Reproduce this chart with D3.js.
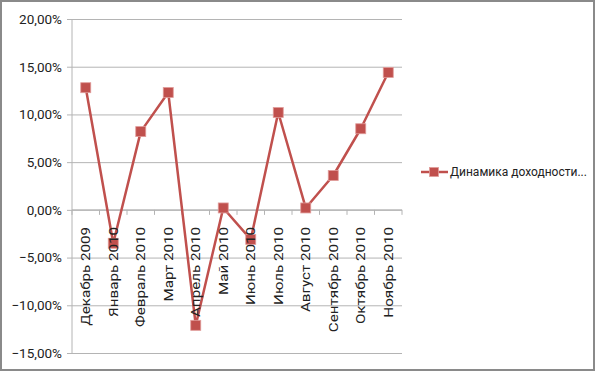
<!DOCTYPE html>
<html>
<head>
<meta charset="utf-8">
<script src="https://cdn.jsdelivr.net/npm/d3@7"></script>
<style>
  body { margin: 0; background: #fff; }
  text { font-family: Roboto, "Liberation Sans", sans-serif; fill: #222; }
</style>
</head>
<body>
<div id="chart"></div>
<script>
// chart data
const categories = ["Декабрь 2009", "Январь 2010", "Февраль 2010", "Март 2010", "Апрель 2010", "Май 2010",
  "Июнь 2010", "Июль 2010", "Август 2010", "Сентябрь 2010", "Октябрь 2010", "Ноябрь 2010"];
const values = [0.128, -0.035, 0.082, 0.123, -0.121, 0.002, -0.031, 0.102, 0.002, 0.036, 0.085, 0.144];
const yTicks = [-0.15, -0.10, -0.05, 0, 0.05, 0.10, 0.15, 0.20];
const seriesName = "Динамика доходности...";

const width = 596, height = 372;
const plot = {left: 72, right: 402, top: 19, bottom: 353};
const lineColor = "#c0504d";

const svg = d3.select("#chart").append("svg")
  .attr("width", width)
  .attr("height", height);

// outer frame
svg.append("rect")
  .attr("x", 1).attr("y", 1)
  .attr("width", width - 3).attr("height", height - 3)
  .attr("fill", "#fff")
  .attr("stroke", "#8a8a8a")
  .attr("stroke-width", 2);

const x = d3.scaleBand().domain(categories).range([plot.left, plot.right]);
const y = d3.scaleLinear().domain([-0.15, 0.20]).range([plot.bottom, plot.top]);

const fmt = d => d3.format(".2f")(d * 100).replace(".", ",") + "%";

// gridlines + y axis
const yAxis = d3.axisLeft(y)
  .tickValues(yTicks)
  .tickSize(-(plot.right - plot.left))
  .tickFormat(fmt)
  .tickPadding(10);

const gy = svg.append("g")
  .attr("transform", "translate(" + plot.left + ",0)")
  .call(yAxis);
gy.select(".domain").remove();
gy.selectAll(".tick line").attr("stroke", "#b4b4b4").attr("x1", -5);
gy.selectAll(".tick text")
  .attr("font-size", 13.5)
  .attr("font-family", "Roboto, sans-serif")
  .attr("fill", "#222");

svg.append("line")
  .attr("x1", plot.left).attr("x2", plot.left)
  .attr("y1", plot.top).attr("y2", plot.bottom)
  .attr("stroke", "#b4b4b4");

// category axis on zero line
const y0 = y(0);
const gx = svg.append("g").attr("transform", "translate(0," + y0 + ")");
gx.append("line")
  .attr("x1", plot.left).attr("x2", plot.right)
  .attr("stroke", "#b4b4b4");
const bounds = categories.map(c => x(c)).concat([plot.right]);
gx.selectAll("line.tk")
  .data(bounds)
  .join("line")
  .attr("class", "tk")
  .attr("x1", d => d).attr("x2", d => d)
  .attr("y1", 0).attr("y2", 5)
  .attr("stroke", "#b4b4b4");

// series line
const line = d3.line()
  .x((d, i) => x(categories[i]) + x.bandwidth() / 2)
  .y(d => y(d));

svg.append("path")
  .datum(values)
  .attr("d", line)
  .attr("fill", "none")
  .attr("stroke", lineColor)
  .attr("stroke-width", 2.5)
  .attr("stroke-linejoin", "round");

svg.selectAll("rect.marker")
  .data(values)
  .join("rect")
  .attr("class", "marker")
  .attr("x", (d, i) => x(categories[i]) + x.bandwidth() / 2 - 5)
  .attr("y", d => y(d) - 5)
  .attr("width", 10).attr("height", 10)
  .attr("fill", lineColor)
  .attr("stroke", "#e09c9a")
  .attr("stroke-width", 0.8);

// category labels drawn over the series, as in the original
svg.append("g")
  .attr("transform", "translate(0," + y0 + ")")
  .selectAll("text.cat")
  .data(categories)
  .join("text")
  .attr("class", "cat")
  .attr("font-size", 13)
  .attr("text-anchor", "end")
  .attr("transform", d => "translate(" + (x(d) + x.bandwidth() / 2) + "," + 17 + ") rotate(-90) scale(1.17,1)")
  .attr("dy", "0.35em")
  .text(d => d);

// legend
const lg = svg.append("g").attr("transform", "translate(421,172)");
lg.append("line")
  .attr("x1", 0).attr("x2", 27)
  .attr("stroke", lineColor).attr("stroke-width", 2.5);
lg.append("rect")
  .attr("x", 8.5).attr("y", -4.5)
  .attr("width", 9).attr("height", 9)
  .attr("fill", lineColor)
  .attr("stroke", "#e09c9a")
  .attr("stroke-width", 0.8);
lg.append("text")
  .attr("x", 29).attr("dy", "0.35em")
  .attr("font-size", 12)
  .text(seriesName);
</script>
</body>
</html>
